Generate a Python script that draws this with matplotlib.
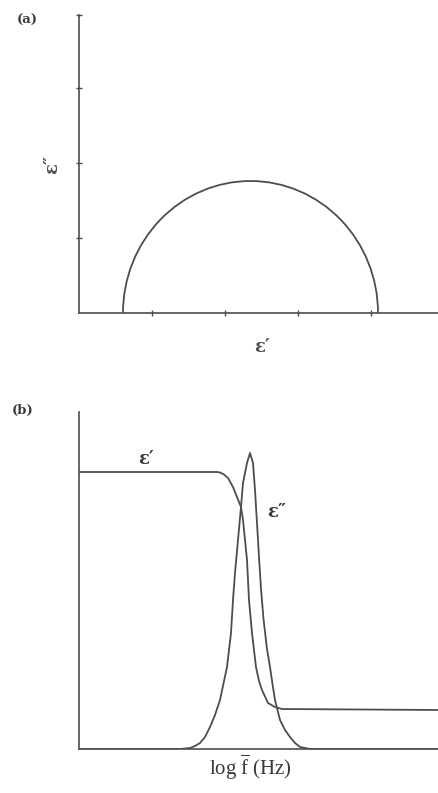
import matplotlib
matplotlib.use("Agg")
import matplotlib.pyplot as plt
from matplotlib.patches import Arc

plt.rcParams['mathtext.fontset'] = 'custom'
plt.rcParams['mathtext.rm'] = 'Liberation Serif'
plt.rcParams['mathtext.it'] = 'Liberation Serif:italic'

W, H = 438, 793
INK = '#4d4d4d'
SERIF = ['DejaVu Serif', 'Liberation Serif']

# (a) Cole-Cole plot: intercepts on the real axis and height of the arc
eps_inf = 4.4
eps_s = 29.9
loss_peak = 13.2
a_xticks = [7.3, 14.6, 21.9, 29.2]
a_yticks = [7.5, 15.0, 22.5, 29.8]

# (b) dispersion curves against log f
eps1_logf = [0.0, 13.8, 14.1, 14.5, 14.9, 15.4, 15.8, 16.2, 16.4, 16.6, 16.8,
             16.9, 17.0, 17.3, 17.7, 18.0, 18.3, 18.9, 19.6, 20.3, 35.9]
eps1_val = [27.7, 27.7, 27.65, 27.45, 27.1, 26.2, 25.2, 24.2, 22.9, 20.9, 18.9,
            16.9, 14.9, 11.6, 8.2, 6.8, 5.9, 4.6, 4.2, 4.0, 3.9]

eps2_logf = [0.0, 10.1, 11.1, 11.6, 12.1, 12.6, 13.1, 13.6, 14.1, 14.8, 15.2,
             15.4, 15.6, 15.9, 16.2, 16.4, 16.8, 17.1, 17.4, 17.6, 17.8, 18.0,
             18.2, 18.45, 18.8, 19.1, 19.35, 19.6, 20.1, 20.6, 21.1, 21.6, 22.1,
             23.1, 35.9]
eps2_val = [0.0, 0.0, 0.1, 0.3, 0.6, 1.2, 2.2, 3.4, 4.9, 8.2, 11.6,
            14.9, 17.6, 20.9, 24.2, 26.6, 28.6, 29.6, 28.6, 25.9, 22.6, 19.2,
            16.0, 13.0, 10.0, 8.2, 6.5, 4.9, 2.9, 1.9, 1.2, 0.6, 0.2,
            0.0, 0.0]


def px(x, y):
    return x / W, 1 - y / H


def style(ax):
    for s in ('top', 'right'):
        ax.spines[s].set_visible(False)
    for s in ('left', 'bottom'):
        ax.spines[s].set_color(INK)
        ax.spines[s].set_linewidth(1.2)
    ax.tick_params(colors=INK, direction='inout', length=5, width=1,
                   labelleft=False, labelbottom=False)


fig = plt.figure(figsize=(W / 100, H / 100), dpi=100)

# panel (a)
ax1 = fig.add_axes([79 / W, 1 - 313 / H, 359 / W, 298 / H])
style(ax1)
ax1.set_xlim(0, 35.9)
ax1.set_ylim(0, 29.8)
ax1.set_xticks(a_xticks)
ax1.set_yticks(a_yticks)
ax1.add_patch(Arc(((eps_inf + eps_s) / 2, 0), eps_s - eps_inf, 2 * loss_peak,
                  theta1=0, theta2=180, color=INK, lw=1.3))

# panel (b)
ax2 = fig.add_axes([79 / W, 1 - 749 / H, 359 / W, 337 / H])
style(ax2)
ax2.set_xlim(0, 35.9)
ax2.set_ylim(0, 33.7)
ax2.set_xticks([])
ax2.set_yticks([])
ax2.plot(eps1_logf, eps1_val, color=INK, lw=1.3)
ax2.plot(eps2_logf, eps2_val, color=INK, lw=1.3)

# labels
TXT = '#3a3a3a'
fig.text(*px(27, 20), '(a)', family=SERIF, weight='bold', fontsize=9.5,
         color=TXT, ha='center', va='center')
fig.text(*px(23, 410), '(b)', family=SERIF, weight='bold', fontsize=9.5,
         color=TXT, ha='center', va='center')
fig.text(*px(52, 164), 'ε″', family=SERIF, weight='bold', fontsize=13,
         color='#505050', ha='center', va='center', rotation=90)
fig.text(*px(262, 347), 'ε′', family=SERIF, weight='bold', fontsize=13,
         color='#505050', ha='center', va='center')
fig.text(*px(146, 459), 'ε′', family=SERIF, weight='bold', fontsize=13,
         color=TXT, ha='center', va='center')
fig.text(*px(277, 512), 'ε″', family=SERIF, weight='bold', fontsize=13,
         color=TXT, ha='center', va='center')
fig.text(*px(250, 767), r'$\mathrm{log}\ \overline{\mathrm{f}}\ \mathrm{(Hz)}$',
         fontsize=15, color=TXT, ha='center', va='center')

fig.savefig('out.png', dpi=100)
